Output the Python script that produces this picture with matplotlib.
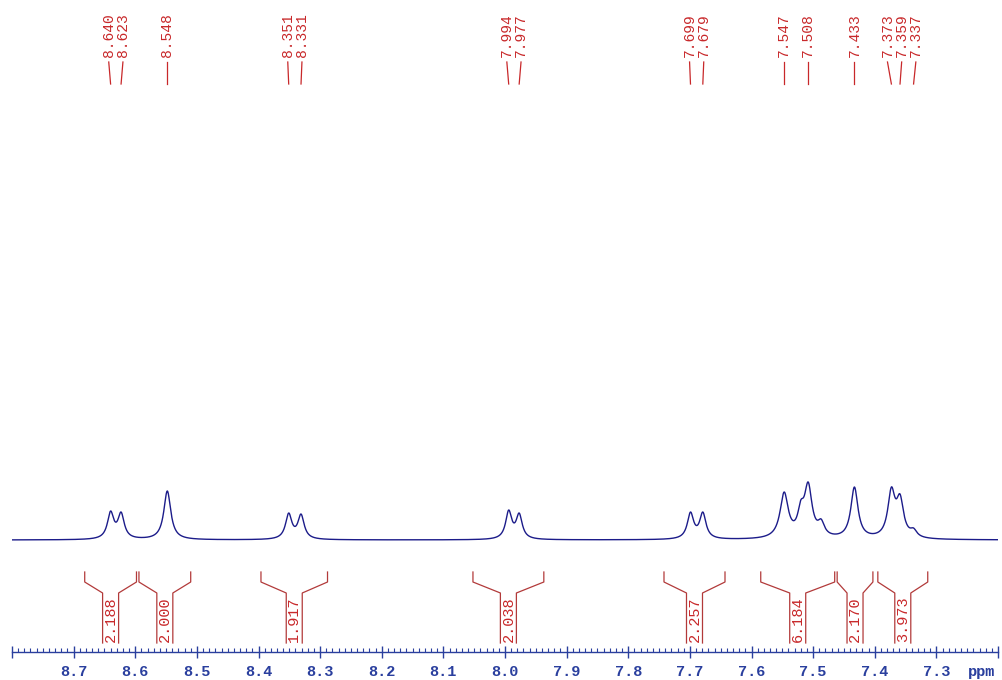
import numpy as np
import matplotlib
matplotlib.use("Agg")
import matplotlib.pyplot as plt
from matplotlib.ticker import MultipleLocator, FixedLocator, FuncFormatter
from matplotlib.transforms import blended_transform_factory

# ---------------- data ----------------
# peak picking labels (ppm)
label_ppm = [8.640, 8.623, 8.548, 8.351, 8.331, 7.994, 7.977, 7.699, 7.679,
             7.547, 7.508, 7.433, 7.373, 7.359, 7.337]
# spectrum lines (ppm), observed heights (arbitrary units) and half widths (ppm)
line_ppm = [8.640, 8.623, 8.548, 8.351, 8.331, 7.994, 7.977, 7.699, 7.679,
            7.547, 7.520, 7.508, 7.487, 7.433, 7.373, 7.359, 7.337]
line_height = [29, 28, 49, 27, 26, 30, 27, 28, 28,
               48, 40, 58, 21, 53, 53, 46, 12]
line_hwhm = [0.0062, 0.0062, 0.0068, 0.0062, 0.0062, 0.0060, 0.0060, 0.0062, 0.0062,
             0.0080, 0.0060, 0.0075, 0.0065, 0.0070, 0.0070, 0.0070, 0.0065]
# integral regions (ppm) and values
int_start = [8.682, 8.594, 8.396, 8.052, 7.742, 7.585, 7.461, 7.395]
int_end = [8.598, 8.510, 8.288, 7.937, 7.643, 7.465, 7.403, 7.314]
int_value = ["2.188", "2.000", "1.917", "2.038", "2.257", "6.184", "2.170", "3.973"]
x_ticks = [8.7, 8.6, 8.5, 8.4, 8.3, 8.2, 8.1, 8.0, 7.9, 7.8, 7.7, 7.6, 7.5, 7.4, 7.3]

# ---------------- styles ----------------
SPEC_C = "#1c1c8a"
AXIS_C = "#2a3f9e"
LAB_C = "#c8282a"
INT_C = "#b23a3a"

W, H = 1002, 680
fig = plt.figure(figsize=(W / 100, H / 100), dpi=100)
ax = fig.add_axes([12 / W, 28 / H, 986 / W, 652 / H])
ax.set_xlim(8.8, 7.2)
ax.set_ylim(-112, 540)  # pixel-like units, baseline at 0

# spectrum: Lorentzian lines, amplitudes fitted so summed heights match
x = np.linspace(8.8, 7.2, 6000)
pos = np.array(line_ppm)
wid = np.array(line_hwhm)
tgt = np.array(line_height, float)
def lor(xx, c, w):
    return 1.0 / (1.0 + ((xx - c) / w) ** 2)
M = lor(pos[:, None], pos[None, :], wid[None, :])
amp = tgt.copy()
for _ in range(600):
    amp = np.clip(amp + 0.5 * (tgt - M @ amp), 0, None)
y = sum(a * lor(x, c, w) for a, c, w in zip(amp, pos, wid))
ax.plot(x, y, color=SPEC_C, lw=1.0)

# peak labels with spread positions
px_per_ppm = 986 / 1.6
min_sep = 0.023
lp = list(label_ppm)
groups = [[0]]
for i in range(1, len(lp)):
    if lp[groups[-1][-1]] - lp[i] < min_sep:
        groups[-1].append(i)
    else:
        groups.append([i])
lab_x = [0.0] * len(lp)
for g in groups:
    m = np.mean([lp[i] for i in g])
    n = len(g)
    for k, i in enumerate(g):
        lab_x[i] = m + (n - 1) / 2 * min_sep - k * min_sep
for p, lx in zip(lp, lab_x):
    ax.plot([lx, p], [478, 456], color=LAB_C, lw=0.9)
    ax.text(lx, 483, f"{p:.3f}", rotation=90, ha="center", va="bottom",
            color=LAB_C, family="Liberation Mono", fontsize=10.5)

# integrals
h = 8 / px_per_ppm
for s, e, v in zip(int_start, int_end, int_value):
    c = (s + e) / 2
    ax.plot([s, s, c + h, c + h], [-32, -42, -53, -103], color=INT_C, lw=0.9)
    ax.plot([e, e, c - h, c - h], [-32, -42, -53, -103], color=INT_C, lw=0.9)
    ax.text(c, -102, v, rotation=90, ha="center", va="bottom",
            color=LAB_C, family="Liberation Mono", fontsize=11)

# axis
for side in ["top", "left", "right"]:
    ax.spines[side].set_visible(False)
ax.spines["bottom"].set_color(AXIS_C)
ax.spines["bottom"].set_linewidth(1.0)
ax.yaxis.set_visible(False)
ax.xaxis.set_major_locator(FixedLocator(x_ticks + [8.8, 7.2]))
ax.xaxis.set_major_formatter(FuncFormatter(
    lambda v, _: f"{v:.1f}" if any(abs(v - t) < 1e-6 for t in x_ticks) else ""))
ax.xaxis.set_minor_locator(MultipleLocator(0.01))
ax.tick_params(axis="x", which="major", direction="inout", length=9, width=1.0,
               color=AXIS_C, labelcolor=AXIS_C, pad=5)
ax.tick_params(axis="x", which="minor", direction="in", length=3, width=0.8,
               color=AXIS_C)
for lbl in ax.get_xticklabels():
    lbl.set_family("Liberation Mono")
    lbl.set_fontweight("bold")
    lbl.set_fontsize(11)
tr = blended_transform_factory(ax.transData, ax.transAxes)
ax.text(7.226, -0.031, "ppm", transform=tr, ha="center", va="center",
        color=AXIS_C, family="Liberation Mono", fontweight="bold", fontsize=11)

fig.savefig("out.png", dpi=100)
